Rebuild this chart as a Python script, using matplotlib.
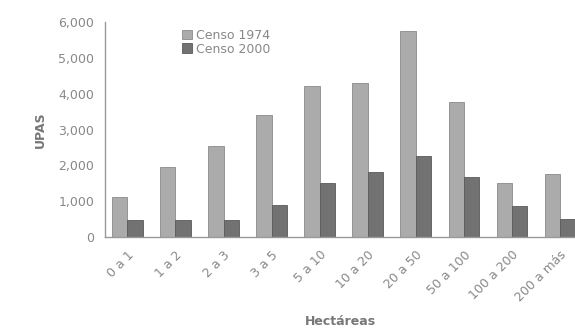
import matplotlib.pyplot as plt
import numpy as np

# Data: UPAs by farm size (hectares), census 1974 vs 2000
categories = ["0 a 1", "1 a 2", "2 a 3", "3 a 5", "5 a 10", "10 a 20",
              "20 a 50", "50 a 100", "100 a 200", "200 a más"]
censo_1974 = [1120, 1950, 2540, 3410, 4220, 4300, 5750, 3770, 1510, 1760]
censo_2000 = [470, 470, 470, 890, 1510, 1820, 2260, 1680, 870, 500]

fig = plt.figure(figsize=(5.75, 3.34), dpi=100)
ax = fig.add_axes([0.183, 0.29, 0.817, 0.644])

x = np.arange(len(categories))
w = 0.32
ax.bar(x - w / 2, censo_1974, w, color="#ababab", edgecolor="#8a8a8a", linewidth=0.6, label="Censo 1974")
ax.bar(x + w / 2, censo_2000, w, color="#727272", edgecolor="#5a5a5a", linewidth=0.6, label="Censo 2000")

ax.set_ylim(0, 6000)
ax.set_xlim(-0.46, 9.31)
ax.set_yticks(range(0, 6001, 1000))
ax.set_yticklabels([f"{v:,}" for v in range(0, 6001, 1000)])
ax.set_xticks(x)
ax.set_xticklabels(categories, rotation=45, ha="right", rotation_mode="anchor")

for s in ["top", "right"]:
    ax.spines[s].set_visible(False)
for s in ["left", "bottom"]:
    ax.spines[s].set_color("#999999")
    ax.spines[s].set_linewidth(1.0)
ax.tick_params(length=0, colors="#888888", labelsize=9, pad=8)

ax.set_ylabel("UPAS", color="#777777", fontsize=9, fontweight="bold", labelpad=8)
ax.set_xlabel("Hectáreas", color="#777777", fontsize=9, fontweight="bold", labelpad=8)

ax.legend(loc="upper left", bbox_to_anchor=(0.14, 1.02), frameon=False, fontsize=9,
          handlelength=0.8, handleheight=0.8, handletextpad=0.3, labelspacing=0.05,
          labelcolor="#888888")

fig.savefig("out.png", dpi=100)
